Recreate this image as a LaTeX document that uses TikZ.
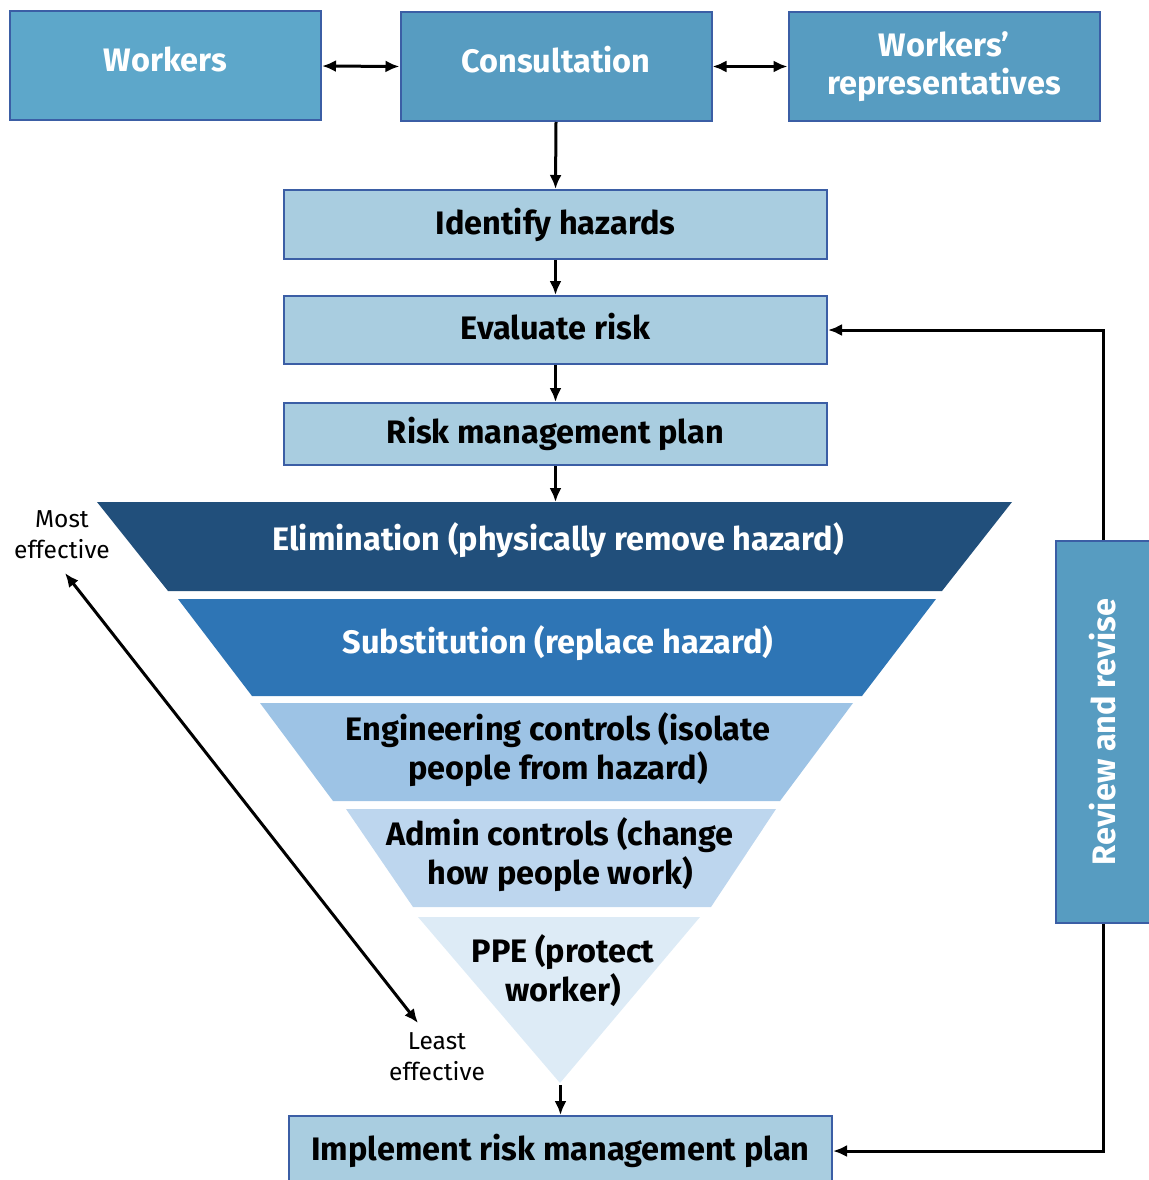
\documentclass[tikz,border=0pt]{standalone}
\usepackage{fontspec}
\setmainfont{Fira Sans}
\usetikzlibrary{arrows.meta}
\definecolor{workcol}{HTML}{5DA7CA}
\definecolor{conscol}{HTML}{579CC1}
\definecolor{edgecol}{HTML}{3B5EA5}
\definecolor{stepcol}{HTML}{A9CDE0}
\definecolor{elimcol}{HTML}{214F7B}
\definecolor{substcol}{HTML}{2E75B5}
\definecolor{engcol}{HTML}{9DC3E5}
\definecolor{admincol}{HTML}{BDD6EE}
\definecolor{ppecol}{HTML}{DDEBF6}
\begin{document}
\begin{tikzpicture}[x=1pt, y=-1pt, >={Latex[length=14pt,width=12pt]}, line width=3pt]
\tikzset{topbox/.style={draw=edgecol, line width=2pt, fill=conscol, text=white, align=center,
    minimum width=311pt, minimum height=109pt, font=\fontsize{32.5}{38}\selectfont\bfseries},
  stepbox/.style={draw=edgecol, line width=2pt, fill=stepcol, minimum width=543pt,
    font=\fontsize{32.5}{38}\selectfont\bfseries},
  level/.style={align=center, font=\fontsize{32.5}{39}\selectfont\bfseries},
  side/.style={align=center, font=\fontsize{24.5}{31}\selectfont}}
\useasboundingbox (0,0) rectangle (1148,1180);
% top row
\node[topbox,fill=workcol,text depth=14pt](work) at (165.5,66) {Workers};
\node[topbox,text depth=14pt](cons) at (556,66.5) {Consultation};
\node[topbox](rep) at (944,66.5) {Workers’\\representatives};
\draw[<->] (work.east) -- (cons.west);
\draw[<->] (cons.east) -- (rep.west);
% steps
\node[stepbox,minimum height=69pt](ident) at (555.5,224.5) {Identify hazards};
\node[stepbox,minimum height=68pt,text depth=8pt](eval) at (555.5,330) {Evaluate risk};
\node[stepbox,minimum height=62pt](plan) at (555.5,434) {Risk management plan};
\node[stepbox,minimum height=70pt](impl) at (560.5,1151) {Implement risk management plan};
\draw[->] (cons.south) -- (ident.north);
\draw[->] (ident.south) -- (eval.north);
\draw[->] (eval.south) -- (plan.north);
% hierarchy of controls
\fill[elimcol] (97,502) -- (1012,502) -- (942,591) -- (168,591) -- cycle;
\fill[substcol] (178,599) -- (936,599) -- (862,696) -- (252,696) -- cycle;
\fill[engcol] (260,703) -- (853,703) -- (780,801) -- (333,801) -- cycle;
\fill[admincol] (346,809) -- (776,809) -- (711,907) -- (413,907) -- cycle;
\fill[ppecol] (418,917) -- (700,917) -- (560,1083) -- cycle;
\coordinate (elimtop) at (555.5,502);
\coordinate (apex) at (560.5,1085);
\node[level,text=white](elim) at (558,540) {Elimination (physically remove hazard)};
\node[level,text=white](subst) at (558,643) {Substitution (replace hazard)};
\node[level](eng) at (558,750) {Engineering controls (isolate\\people from hazard)};
\node[level](admin) at (560,855) {Admin controls (change\\how people work)};
\node[level](ppe) at (563,971) {PPE (protect\\worker)};
\draw[->] (plan.south) -- (elimtop);
\draw[->] (apex) -- (impl.north);
% effectiveness
\node[side](most) at (62,535) {Most\\effective};
\node[side](least) at (437,1057) {Least\\effective};
\coordinate (hi) at (65,573);
\coordinate (lo) at (418,1023);
\draw[<->] (hi) -- (lo);
% review loop
\node[topbox,rotate=90,minimum width=382pt,minimum height=94pt](rev) at (1103,732) {Review and revise};
\draw[->] (rev.east) |- (eval.east);
\draw[->] (rev.west) |- (impl.east);
\end{tikzpicture}
\end{document}
